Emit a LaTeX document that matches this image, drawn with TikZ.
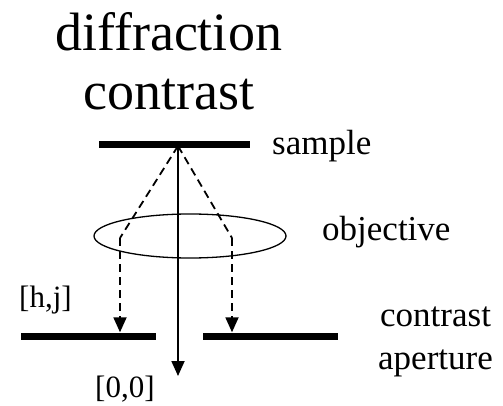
\documentclass[tikz,border=0pt]{standalone}
\usepackage{fontspec}
\setmainfont{Liberation Serif}
\usetikzlibrary{arrows.meta, shapes.geometric}
\definecolor{ink}{HTML}{000000}
\tikzset{
  title/.style={font=\fontsize{54}{60}\selectfont, text=ink, inner sep=0pt},
  label/.style={font=\fontsize{35}{40}\selectfont, text=ink, inner sep=0pt},
  index/.style={font=\fontsize{31}{36}\selectfont, text=ink, inner sep=0pt},
  bar/.style={rectangle, fill=ink, inner sep=0pt, minimum height=7pt},
  lens/.style={ellipse, draw=ink, line width=1.3pt, inner sep=0pt},
  beam/.style={draw=ink, line width=1.8pt},
  diffbeam/.style={beam, dash pattern=on 8pt off 5pt},
  tip/.style={-{Triangle[width=13pt,length=15pt]}}
}

\begin{document}
\begin{tikzpicture}[x=1pt,y=-1pt]
\useasboundingbox (0,0) rectangle (503,406);

\node[title, anchor=base] (t1) at (168.5,51) {diffraction};
\node[title, anchor=base] (t2) at (169,110) {contrast};

\node[bar, minimum width=151pt] (sample) at (174.5,144.5) {};
\node[lens, minimum width=192pt, minimum height=44pt] (objective) at (190,236) {};
\node[bar, minimum width=135pt] (apL) at (88.5,336) {};
\node[bar, minimum width=135pt] (apR) at (270.5,336) {};

\coordinate (focus) at (178,146);
\coordinate (bendL) at (120,238);
\coordinate (bendR) at (232,238);
\coordinate (zero) at (178,376);

\draw[beam, tip] (focus) -- (zero);
\draw[diffbeam] (focus) -- (bendL);
\draw[diffbeam] (focus) -- (bendR);
\draw[diffbeam, tip] (bendL) -- (bendL |- apL.north);
\draw[diffbeam, tip] (bendR) -- (bendR |- apR.north);

\node[label, anchor=base west] (lsample) at (272,155) {sample};
\node[label, anchor=base west] (lobj) at (322,240) {objective};
\node[index, anchor=base west] (lhj) at (19,307) {[h,j]};
\node[index, anchor=base west] (l00) at (95,397) {[0,0]};
\node[label, anchor=base west] (lap1) at (380,326) {contrast};
\node[label, anchor=base west] (lap2) at (378,369) {aperture};

\end{tikzpicture}
\end{document}
